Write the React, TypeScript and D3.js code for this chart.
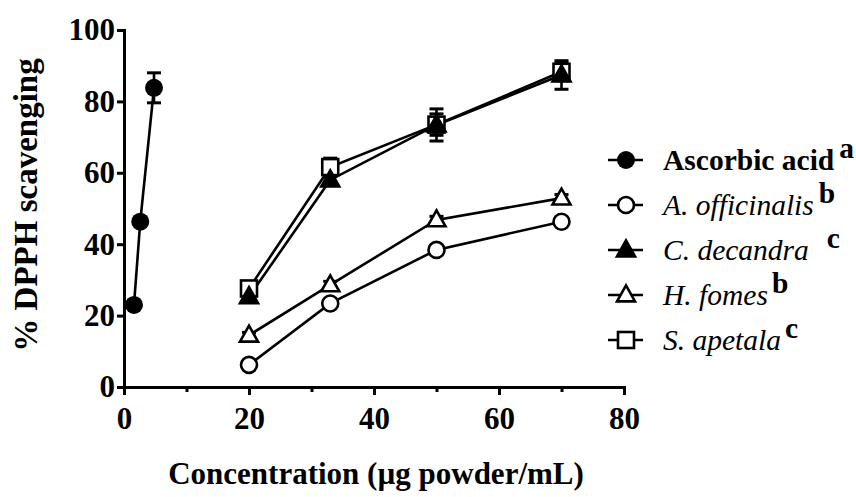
import React, { useCallback, useEffect, useRef } from 'react';
import * as d3 from 'd3';

// concentrations (µg powder/mL)
const ascorbicConc = [1.6, 2.6, 4.8];
const extractConc = [20, 33, 50, 70];

// % DPPH scavenging, mean and error
const ascorbicMean = [23, 46.3, 83.8];
const ascorbicErr = [0.8, 1, 4.2];
const officinalisMean = [6.2, 23.4, 38.4, 46.3];
const officinalisErr = [0.8, 1, 1, 1];
const decandraMean = [25.3, 58, 73.4, 87.4];
const decandraErr = [1, 1.5, 4.5, 4];
const fomesMean = [14.5, 28.6, 46.8, 52.9];
const fomesErr = [0.8, 1, 1, 1];
const apetalaMean = [27.6, 61.6, 73.5, 88.3];
const apetalaErr = [1.5, 2.5, 3, 2.5];

const legendNames = ['Ascorbic acid', 'A. officinalis', 'C. decandra', 'H. fomes', 'S. apetala'];
const legendSup = ['a', 'b', 'c', 'b', 'c'];
const markerKinds = ['filledCircle', 'openCircle', 'filledTriangle', 'openTriangle', 'openSquare'];

const xTicks = [0, 20, 40, 60, 80];
const xMinorTicks = [10, 30, 50, 70];
const yTicks = [0, 20, 40, 60, 80, 100];

const FONT = '"Liberation Serif", "Times New Roman", serif';

const drawMarker = (g, kind, cx, cy) => {
  const sw = 2.6;
  if (kind === 'filledCircle') {
    g.append('circle').attr('cx', cx).attr('cy', cy).attr('r', 9).attr('fill', '#000');
  } else if (kind === 'openCircle') {
    g.append('circle').attr('cx', cx).attr('cy', cy).attr('r', 8)
      .attr('fill', '#fff').attr('stroke', '#000').attr('stroke-width', sw);
  } else if (kind === 'filledTriangle' || kind === 'openTriangle') {
    const h = 16;
    const w = 18;
    const pts = [[cx, cy - h * 0.6], [cx + w / 2, cy + h * 0.4], [cx - w / 2, cy + h * 0.4]];
    g.append('polygon').attr('points', pts.map((p) => p.join(',')).join(' '))
      .attr('fill', kind === 'filledTriangle' ? '#000' : '#fff')
      .attr('stroke', '#000').attr('stroke-width', sw).attr('stroke-linejoin', 'miter');
  } else if (kind === 'openSquare') {
    g.append('rect').attr('x', cx - 8).attr('y', cy - 8).attr('width', 16).attr('height', 16)
      .attr('fill', '#fff').attr('stroke', '#000').attr('stroke-width', sw);
  }
};

const App = () => {
  const svgRef = useRef(null);

  const drawChart = useCallback(() => {
    const svg = d3.select(svgRef.current);
    svg.selectAll('*').remove();

    const x = d3.scaleLinear().domain([0, 80]).range([124, 624]);
    const y = d3.scaleLinear().domain([0, 100]).range([387, 30]);

    const series = [
      { conc: ascorbicConc, mean: ascorbicMean, err: ascorbicErr },
      { conc: extractConc, mean: officinalisMean, err: officinalisErr },
      { conc: extractConc, mean: decandraMean, err: decandraErr },
      { conc: extractConc, mean: fomesMean, err: fomesErr },
      { conc: extractConc, mean: apetalaMean, err: apetalaErr },
    ];

    // axes
    const yAxis = svg.append('g').attr('transform', 'translate(124,0)')
      .call(d3.axisLeft(y).tickValues(yTicks).tickSize(7).tickSizeOuter(0).tickPadding(2));
    const xAxis = svg.append('g').attr('transform', 'translate(0,387)')
      .call(d3.axisBottom(x).tickValues(xTicks).tickSize(8).tickSizeOuter(0).tickPadding(12));
    svg.append('g').attr('transform', 'translate(0,387)')
      .call(d3.axisBottom(x).tickValues(xMinorTicks).tickSize(5).tickSizeOuter(0).tickFormat(() => ''))
      .select('.domain').remove();

    [yAxis, xAxis].forEach((a) => {
      a.select('.domain').attr('stroke-width', 3).attr('stroke-linecap', 'square');
    });
    svg.selectAll('.tick line').attr('stroke-width', 3);
    svg.selectAll('.tick text')
      .attr('font-family', FONT).attr('font-size', 31).attr('font-weight', 'bold').attr('fill', '#000');

    // axis titles
    svg.append('text')
      .attr('x', 376).attr('y', 484)
      .attr('text-anchor', 'middle')
      .attr('font-family', FONT).attr('font-size', 31).attr('font-weight', 'bold')
      .text('Concentration (µg powder/mL)');

    svg.append('text')
      .attr('transform', 'translate(37,205) rotate(-90)')
      .attr('text-anchor', 'middle')
      .attr('font-family', FONT).attr('font-size', 33).attr('font-weight', 'bold')
      .text('% DPPH scavenging');

    // lines, error bars and markers
    const line = d3.line().x((d) => x(d[0])).y((d) => y(d[1]));
    const plot = svg.append('g');
    series.forEach((s) => {
      plot.append('path')
        .attr('d', line(s.conc.map((c, i) => [c, s.mean[i]])))
        .attr('fill', 'none').attr('stroke', '#000').attr('stroke-width', 2.6);
    });
    series.forEach((s) => {
      s.conc.forEach((c, i) => {
        const cx = x(c);
        const top = y(s.mean[i] + s.err[i]);
        const bot = y(s.mean[i] - s.err[i]);
        plot.append('line').attr('x1', cx).attr('x2', cx).attr('y1', top).attr('y2', bot)
          .attr('stroke', '#000').attr('stroke-width', 2.6);
        [top, bot].forEach((yy) => {
          plot.append('line').attr('x1', cx - 7).attr('x2', cx + 7).attr('y1', yy).attr('y2', yy)
            .attr('stroke', '#000').attr('stroke-width', 3);
        });
      });
    });
    // draw the square series first so the filled triangles sit on top
    [4, 0, 1, 3, 2].forEach((k) => {
      const s = series[k];
      s.conc.forEach((c, i) => drawMarker(plot, markerKinds[k], x(c), y(s.mean[i])));
    });

    // legend
    const legend = svg.append('g');
    const supGap = [5, 5, 18, 4, 4];
    legendNames.forEach((name, i) => {
      const cy = 160 + i * 45;
      legend.append('line').attr('x1', 608).attr('x2', 643).attr('y1', cy).attr('y2', cy)
        .attr('stroke', '#000').attr('stroke-width', 2.6);
      drawMarker(legend, markerKinds[i], 626, cy);
      const t = legend.append('text')
        .attr('x', 663).attr('y', cy + 10)
        .attr('font-family', FONT).attr('font-size', 29.5);
      t.append('tspan')
        .attr('font-weight', i === 0 ? 'bold' : 'normal')
        .attr('font-style', i === 0 ? 'normal' : 'italic')
        .text(name);
      t.append('tspan')
        .attr('dx', supGap[i]).attr('dy', -12)
        .attr('font-weight', 'bold').attr('font-style', 'normal')
        .text(legendSup[i]);
    });
  }, []);

  useEffect(() => {
    drawChart();
    return () => {
      d3.select(svgRef.current).selectAll('*').remove();
    };
  }, [drawChart]);

  return (
    <svg
      ref={svgRef}
      width="856"
      height="497"
      style={{ position: 'absolute', left: 0, top: 0, background: '#fff' }}
    />
  );
};

export default App;
